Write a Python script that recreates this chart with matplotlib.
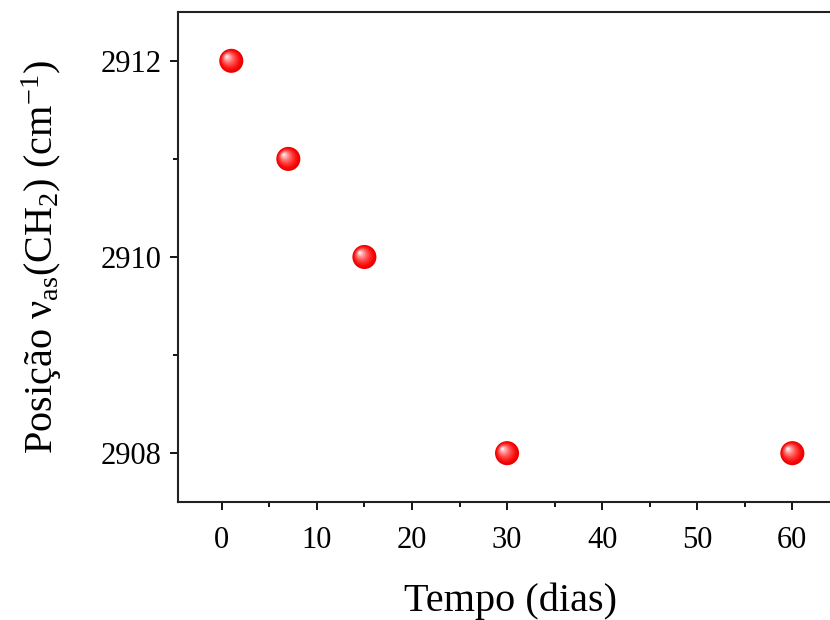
import numpy as np
import matplotlib
matplotlib.use('Agg')
import matplotlib.pyplot as plt
from matplotlib.ticker import MultipleLocator
from matplotlib.transforms import offset_copy

plt.rcParams['font.family'] = ['Liberation Serif', 'DejaVu Serif']
plt.rcParams['mathtext.fontset'] = 'custom'
plt.rcParams['mathtext.rm'] = 'Liberation Serif'
plt.rcParams['mathtext.it'] = 'Liberation Serif:italic'

# dados
tempo = [1, 7, 15, 30, 60]
posicao = [2912, 2911, 2910, 2908, 2908]

fig = plt.figure(figsize=(8.3, 6.2), dpi=100)
ax = fig.add_axes([0.2145, 0.19, 0.802, 0.791])

# esferas vermelhas com brilho
n = 9
for k in range(n):
    f = k / (n - 1)
    g = b = 0.9 * f ** 1.6
    size = 300 * (1 - 0.88 * f) ** 2
    tr = offset_copy(ax.transData, fig=fig, x=-3.2 * f, y=3.0 * f, units='points')
    ax.scatter(tempo, posicao, s=size, color=(0.93 + 0.07 * min(1, 3 * f), g, b),
               edgecolors='none', transform=tr, zorder=3 + k, clip_on=False)

ax.set_xlim(-4.6, 65.4)
ax.set_ylim(2907.5, 2912.5)
ax.xaxis.set_major_locator(MultipleLocator(10))
ax.xaxis.set_minor_locator(MultipleLocator(5))
ax.yaxis.set_major_locator(MultipleLocator(2))
ax.yaxis.set_minor_locator(MultipleLocator(1))

for s in ax.spines.values():
    s.set_linewidth(1.5)
    s.set_color('#222222')
ax.tick_params(which='major', direction='out', length=6, width=1.3, labelsize=22)
ax.tick_params(axis='x', which='major', pad=11)
ax.tick_params(axis='y', which='major', pad=6)
ax.tick_params(which='minor', direction='out', length=3.5, width=1.3)

ax.set_xlabel('Tempo (dias)', fontsize=29, labelpad=20)
ax.set_ylabel(r'Posição ν$_{\mathrm{as}}$(CH$_2$) (cm$^{\mathrm{-1}}$)', fontsize=29, labelpad=26)

fig.savefig('out.png', dpi=100)
